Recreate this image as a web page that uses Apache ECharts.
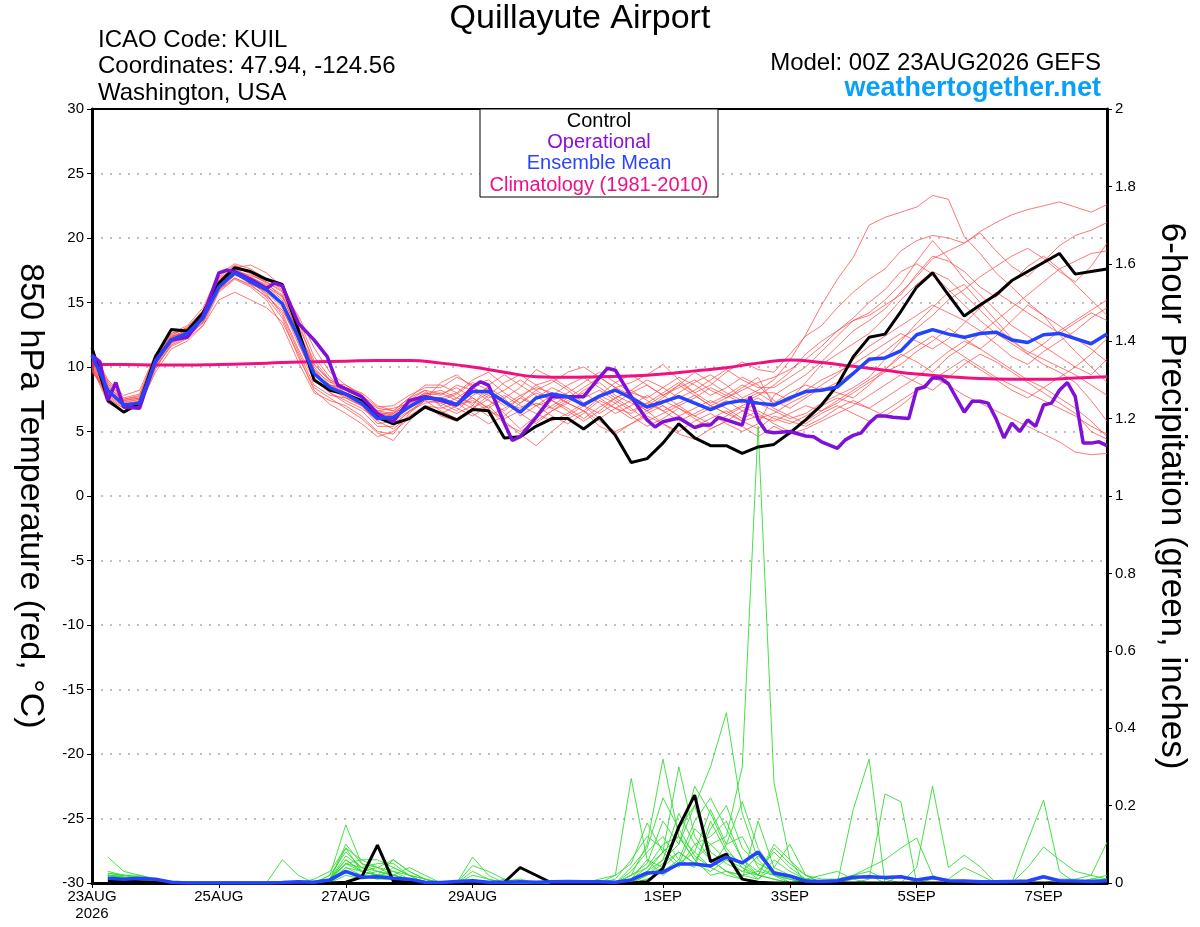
<!DOCTYPE html>
<html>
<head>
<meta charset="utf-8">
<title>Quillayute Airport</title>
<script src="https://cdn.jsdelivr.net/npm/echarts@6.0.0/dist/echarts.min.js"></script>
<style>
html, body { margin: 0; padding: 0; background: #fff; }
#chart { width: 1200px; height: 927px; }
</style>
</head>
<body>
<div id="chart"></div>
<script>
// forecast hours from 00Z 23AUG2026, 6-hourly
var hours = [0,6,12,18,24,30,36,42,48,54,60,66,72,78,84,90,96,102,108,114,120,126,132,138,144,150,156,162,168,174,180,186,192,198,204,210,216,222,228,234,240,246,252,258,264,270,276,282,288,294,300,306,312,318,324,330,336,342,348,354,360,366,372,378,384];
var precipHours = hours.slice(1); // precip starts at +6h

var dayTicks = [0, 48, 96, 144, 216, 264, 312, 360];
var dayLabels = ['23AUG\n2026', '25AUG', '27AUG', '29AUG', '1SEP', '3SEP', '5SEP', '7SEP'];

// control run, 850 hPa temperature
var controlTemp = [11.5,7.4,6.5,7.2,10.8,12.9,12.8,14.2,16.5,17.7, 17.4,16.8,16.4,12.9,9.0,8.2,7.9,7.4,6.1,5.6,
  6.0,6.9,6.4,5.9,6.7,6.6,4.5,4.6,5.4,6.0, 6.0,5.2,6.1,4.7,2.6,2.9,4.1,5.6,4.5,3.9,
  3.9,3.3,3.8,4.0,4.9,5.9,7.05,8.6,10.8,12.3, 12.55,14.3,16.2,17.3,15.6,13.95,14.8,15.6,16.7,17.4,
  18.1,18.8,17.2,17.4,17.6];

// ensemble mean temperature
var meanTemp = [10.9,8.2,7.05,7.2,10.4,12.1,12.6,13.8,16.2,17.3, 16.6,16.0,14.9,12.35,9.5,8.4,7.9,7.2,6.0,6.1,
  6.9,7.6,7.5,7.1,8.1,8.1,7.3,6.5,7.6,7.9, 7.7,7.05,7.75,8.2,7.6,6.9,7.3,7.7,7.2,6.7,
  7.2,7.4,7.2,7.05,7.6,8.1,8.2,8.45,9.5,10.6, 10.7,11.25,12.5,12.9,12.55,12.3,12.6,12.7,12.1,11.9,
  12.5,12.6,12.2,11.8,12.55];

// operational run (3-hourly in places)
var opHours = [0,3,6,9,12,18,24,30,36,42,48,51,54,60,66,69,72,78,84,89,93,96,102,108,114,120,126,132,138,144,
  147,150,156,159,162,168,174,180,186,192,195,198,204,210,213,216,222,228,231,234,237,240,246,249,252,255,258,264,270,273,
  276,282,285,288,291,294,297,300,303,309,312,315,318,321,324,330,333,336,339,342,345,348,351,354,357,360,363,366,369,372,
  375,378,381,384];
var opTemp = [10.9,10.4,7.4,8.8,6.9,6.8,10.5,12.1,12.3,13.9,17.3,17.5,17.4,16.8,16.1,16.5,16.3,13.4,12.1,10.8,
  8.6,8.3,7.7,6.4,5.75,7.4,7.7,7.4,7.05,8.45,8.85,8.6,5.65,4.3,4.6,6.1,7.7,7.7,7.7,9.2,
  9.9,9.75,7.7,5.9,5.35,5.75,6.05,5.3,5.5,5.5,6.1,5.9,5.5,7.7,5.9,5.0,4.9,5.0,4.65,4.6,
  4.2,3.7,4.35,4.7,4.9,5.65,6.2,6.2,6.1,6.0,8.3,8.45,9.15,9.15,8.7,6.5,7.35,7.35,7.2,6.0,
  4.5,5.65,5.0,5.9,5.4,7.05,7.2,8.2,8.8,7.7,4.1,4.1,4.2,3.9];

// climatology 1981-2010, 12-hourly
var climHours = [0,12,24,36,48,60,72,84,96,108,120,132,144,156,168,180,192,204,216,228,240,252,264,276,288,300,312,324,336,348,360,372,384];
var climTemp = [10.2,10.2,10.15,10.15,10.2,10.25,10.35,10.4,10.45,10.5, 10.5,10.3,10.0,9.6,9.25,9.2,9.25,9.3,9.45,9.7,
  9.95,10.3,10.55,10.35,10.05,9.75,9.45,9.25,9.1,9.05, 9.05,9.15,9.25];

// ensemble members, temperature: early (0-126h), middle (132-252h), late (258-384h) pieces
var e1 = [10.2,7.5,6.8,7.4,10.6,12.3,12.9,14.1,16.6,17.6,17.0,16.3,15.2,12.0,9.0,8.2,7.8,7.0,5.6,5.8,6.6,7.4];
var e2 = [11.2,8.6,7.2,7.0,9.8,11.8,12.4,13.5,16.0,17.1,16.8,16.2,15.5,13.2,10.5,9.0,8.4,7.6,6.5,6.3,7.2,8.0];
var e3 = [9.6,8.0,7.4,7.6,10.2,12.0,12.7,13.9,16.4,17.5,16.4,15.4,13.8,10.8,8.4,7.6,6.8,6.0,4.9,4.3,5.8,7.0];
var e4 = [10.8,8.8,7.6,7.9,10.9,12.5,13.0,14.4,17.0,17.9,17.3,16.6,15.9,14.0,11.5,9.6,8.6,7.8,6.9,7.0,7.8,8.4];
var e5 = [10.4,8.3,6.9,6.9,10.0,11.6,12.2,13.2,15.2,15.8,15.2,14.6,13.5,11.0,8.2,7.1,6.4,5.6,4.6,5.0,6.0,6.8];
var e6 = [11.0,8.1,7.1,7.3,10.5,12.2,12.8,14.0,16.9,17.7,17.9,17.3,16.2,13.6,10.2,8.9,8.0,7.4,6.2,5.9,6.8,7.6];
var e7 = [9.9,7.8,7.0,7.1,10.3,12.0,12.5,13.7,16.3,17.2,16.5,15.8,14.6,11.8,9.4,8.6,8.2,7.6,6.8,6.6,7.6,8.6];
var e8 = [10.6,8.5,7.3,7.5,10.7,12.4,12.6,13.6,16.1,17.4,16.9,16.4,15.6,12.6,9.8,8.8,8.6,7.9,6.4,6.2,7.0,7.8];
var e9 = [10.0,7.2,6.6,7.0,9.6,11.4,12.0,13.2,15.8,16.8,16.2,15.2,13.2,10.4,8.0,7.4,7.0,6.2,5.0,4.8,6.4,7.4];
var e10 = [11.4,9.0,7.8,8.2,11.0,12.6,13.2,14.6,17.2,18.0,17.6,16.8,16.0,13.8,10.8,9.2,8.2,7.2,6.0,6.4,7.4,8.2];
var e11 = [10.3,8.0,7.0,7.3,10.4,12.1,12.7,13.9,16.5,17.4,16.6,15.6,14.2,11.4,9.0,8.0,7.2,6.6,5.4,5.4,6.6,7.2];
var e12 = [10.7,8.4,7.5,7.7,10.8,12.4,13.1,14.3,16.7,17.8,17.2,16.5,15.4,12.8,10.0,8.6,8.0,7.4,6.6,6.8,7.2,7.9];
var e13 = [9.8,7.6,6.8,7.2,10.1,11.9,12.4,13.4,15.9,16.9,16.3,15.5,14.4,12.2,9.6,8.3,7.6,7.0,5.8,5.2,6.2,7.0];
var e14 = [11.1,8.7,7.4,7.6,10.6,12.3,12.9,14.2,16.8,17.6,16.8,16.0,14.8,12.4,9.4,8.6,8.4,8.0,7.0,6.6,7.6,8.2];
var e15 = [10.1,7.9,7.1,7.4,10.2,11.9,12.5,13.6,16.2,17.3,16.9,16.1,14.9,12.2,9.2,8.0,7.4,6.8,5.9,6.0,7.0,7.7];
var e16 = [11.0,8.9,7.5,7.8,10.9,12.6,13.0,14.2,16.6,17.5,16.7,15.7,14.0,11.2,8.6,7.8,7.6,7.0,6.3,6.5,7.3,8.0];
var e17 = [10.5,7.7,6.9,7.1,10.0,11.7,12.3,13.5,16.4,17.4,17.1,16.6,15.8,13.0,9.8,8.4,7.7,7.1,6.0,5.6,6.5,7.5];
var e18 = [9.7,8.1,7.2,7.5,10.5,12.2,12.8,14.0,16.0,16.9,16.4,15.9,15.0,12.8,10.2,9.0,8.4,7.7,6.6,6.4,7.1,7.8];

var m1 = [7.8,8.6,8.2,7.4,6.6,7.6,8.6,9.0,8.2,7.2,7.8,8.8,9.4,8.6,7.8,8.4,9.0,8.2,7.6,8.4,9.2];
var m2 = [7.2,6.6,7.8,8.4,7.6,6.2,7.0,7.4,6.8,6.0,6.9,7.6,6.8,5.8,6.4,7.0,6.2,5.6,6.2,6.9,6.4];
var m3 = [6.6,6.0,6.8,7.5,6.4,5.2,6.2,7.0,7.8,7.0,6.0,6.8,7.4,6.6,5.6,5.0,5.8,6.4,5.6,5.0,5.6];
var m4 = [8.4,9.2,8.6,9.0,8.0,7.2,8.2,8.8,9.6,10.0,9.2,8.4,8.8,9.4,10.2,9.0,8.0,8.6,9.6,10.4,9.8];
var m5 = [6.2,5.8,6.6,7.0,5.8,4.8,3.9,5.0,6.0,6.6,5.8,5.0,5.6,6.4,7.0,6.2,5.4,6.0,6.6,5.8,5.2];
var m6 = [7.6,8.0,7.0,8.6,9.4,8.6,7.8,6.8,7.6,8.4,9.2,8.4,7.4,6.6,7.2,8.0,8.8,9.4,8.6,7.6,8.2];
var m7 = [7.0,7.6,7.2,8.0,7.4,6.4,5.6,6.6,7.4,8.0,7.2,6.4,7.0,7.8,7.0,6.2,6.8,7.4,6.8,6.0,6.6];
var m8 = [8.0,7.4,6.8,7.8,8.8,9.4,8.6,7.8,7.2,8.2,8.8,7.8,7.2,6.8,7.6,8.6,9.6,8.8,8.0,7.4,8.0];
var m9 = [6.8,7.2,6.4,5.6,6.2,7.2,8.0,7.4,6.6,5.8,6.6,7.6,8.2,7.4,6.6,7.2,7.8,7.0,6.4,7.0,7.6];
var m10 = [8.6,8.0,9.0,9.6,8.6,7.8,7.0,7.8,8.6,9.2,8.4,7.6,8.2,9.0,8.4,7.6,8.2,9.0,9.8,9.0,8.4];
var m11 = [7.4,6.8,6.2,7.0,7.8,7.0,6.4,5.8,6.4,7.2,7.8,7.2,6.2,5.4,6.0,6.8,6.0,5.2,5.8,6.6,7.2];
var m12 = [7.9,8.4,7.6,6.8,7.6,8.4,9.8,9.2,8.4,7.6,8.2,7.4,6.6,7.2,8.0,8.8,8.0,7.2,7.8,8.6,8.0];
var m13 = [6.4,7.0,7.6,6.8,5.6,5.0,5.8,6.6,7.2,6.6,5.4,4.8,5.6,6.2,5.6,4.8,4.4,5.2,5.8,5.4,4.6];
var m14 = [8.2,7.6,8.4,7.8,7.0,7.8,8.4,8.0,7.2,6.6,7.6,8.4,7.8,7.0,7.8,8.6,7.8,7.0,7.6,8.2,8.8];
var m15 = [7.4,7.9,8.8,8.2,7.2,6.8,7.6,8.4,7.8,7.0,6.4,7.2,8.0,8.6,7.8,7.0,7.6,8.4,7.8,7.2,7.8];
var m16 = [6.9,6.4,7.0,6.2,6.8,7.6,7.0,6.2,5.6,6.4,7.4,6.8,6.0,6.6,7.4,6.8,6.2,6.8,7.4,6.6,6.0];
var m17 = [8.8,9.4,8.4,7.6,8.2,9.0,8.2,7.4,8.0,8.8,9.6,8.8,8.0,7.6,8.4,9.2,8.6,7.8,8.4,9.2,8.6];
var m18 = [7.6,7.0,7.4,6.6,6.0,6.6,7.2,6.8,6.2,7.0,7.6,6.8,6.4,7.2,6.6,5.8,6.4,7.0,6.4,5.8,6.2];

var l1 = [9.0,10.5,12.5,14.8,16.8,18.5,21.0,21.6,22.0,22.4,23.3,23.0,20.1,18.8,17.3,16.2,15.0,14.0,12.5,11.2,10.0,8.8];
var l2 = [7.8,8.6,9.4,10.4,11.6,12.8,13.6,14.5,15.8,17.0,18.4,19.0,19.6,20.5,21.2,21.8,22.2,22.5,22.8,22.4,22.0,22.6];
var l3 = [6.2,5.8,5.4,6.0,6.8,7.4,6.8,6.2,7.0,8.0,9.2,8.6,7.8,7.2,6.6,6.0,5.4,4.8,4.2,3.4,3.2,3.3];
var l4 = [9.6,11.0,12.4,13.2,14.6,15.8,16.8,17.6,19.0,19.8,20.2,20.0,19.6,20.4,19.0,17.8,17.0,18.2,19.4,20.2,20.6,21.2];
var l5 = [5.6,5.0,5.8,6.6,7.2,8.0,8.8,9.6,10.2,11.2,12.0,13.0,12.2,11.4,10.6,9.8,9.0,8.4,7.6,6.8,5.8,4.6];
var l6 = [8.4,9.2,10.0,11.2,12.4,13.6,14.0,14.8,15.6,17.2,18.6,18.2,17.4,16.2,15.4,16.6,17.8,18.6,17.6,16.4,15.2,14.0];
var l7 = [7.0,7.4,8.2,9.0,9.6,10.2,11.0,11.8,12.6,12.0,11.4,12.2,13.4,14.6,15.8,15.0,14.2,13.4,12.6,13.4,14.2,13.6];
var l8 = [6.6,6.0,6.4,7.2,7.8,8.4,9.2,10.6,12.0,13.4,14.6,15.8,16.4,15.0,13.6,12.2,11.0,10.2,9.6,8.8,7.4,5.8];
var l9 = [8.0,7.4,8.8,10.2,11.0,11.8,12.6,13.8,15.2,16.4,17.4,16.8,15.6,14.4,13.2,12.0,11.2,10.6,10.0,9.4,8.6,7.8];
var l10 = [5.4,4.8,5.2,5.8,6.4,7.0,7.8,8.6,9.4,8.8,8.2,9.2,10.2,11.0,10.4,9.6,8.8,8.0,7.2,6.4,5.0,4.4];
var l11 = [7.2,8.0,8.6,8.2,8.8,9.6,10.4,11.2,12.2,13.0,14.0,15.2,16.0,17.0,17.8,18.6,19.2,18.4,17.4,16.6,17.8,19.6];
var l12 = [6.8,6.2,5.6,6.4,7.0,6.4,5.8,6.6,7.4,8.2,9.0,9.8,10.6,9.8,9.0,8.2,7.6,8.4,9.2,10.0,11.0,12.2];
var l13 = [9.2,9.8,10.6,11.6,12.8,13.6,14.2,15.2,16.4,18.2,19.8,18.4,16.8,15.6,14.4,13.2,12.4,11.6,10.8,10.0,9.4,10.6];
var l14 = [6.0,5.6,6.2,7.0,7.6,7.2,6.8,7.6,8.4,9.2,10.2,11.2,12.0,11.4,12.4,13.6,14.8,14.0,13.2,12.2,11.4,10.4];
var l15 = [8.6,9.6,11.0,12.0,12.8,13.8,15.0,16.0,17.4,18.0,17.2,16.0,14.8,13.6,12.6,11.8,11.0,11.8,12.8,13.6,14.4,15.2];
var l16 = [6.4,7.2,7.8,8.6,9.4,10.6,11.6,12.4,13.2,14.0,14.8,14.2,13.6,12.8,11.8,10.8,10.2,11.2,12.0,12.8,13.8,14.6];
var l17 = [7.4,6.8,7.6,8.4,8.0,7.6,8.6,9.8,11.0,10.4,9.6,10.8,11.6,12.6,13.6,14.6,15.6,16.6,17.6,18.2,18.8,19.0];
var l18 = [5.8,6.4,7.0,6.6,7.4,8.2,9.0,9.8,10.8,11.6,12.4,11.6,10.8,10.0,9.2,8.6,8.0,7.4,6.8,6.2,5.4,4.8];

var tempMembers = [
  e1.concat(m3, l2), e2.concat(m1, l7), e3.concat(m5, l3), e4.concat(m4, l4),
  e5.concat(m13, l10), e6.concat(m6, l1), e7.concat(m10, l6), e8.concat(m8, l9),
  e9.concat(m2, l5), e10.concat(m12, l11), e11.concat(m11, l8), e12.concat(m14, l13),
  e13.concat(m9, l12), e14.concat(m7, l14), e15.concat(m15, l15), e16.concat(m16, l16),
  e17.concat(m17, l17), e18.concat(m18, l18)
];

// control and mean 6-hour precipitation (inches), 6..384h
var controlPrecip = [.004,.005,.003,.001,0,0,0,0, 0,0,0,0,0,0,0,.002, .015,.098,.005,.002,0,0,0,0, 0,.002,.04,.02,0,0,0,0,
  0,0,.003,.038,.145,.227,.055,.075, .01,.002,0,0,0,0,0,0, 0,0,0,0,0,0,0,0, 0,0,0,0,0,0,0,0];
var meanPrecip = [.012,.01,.012,.01,.002,0,0,0, 0,0,0,.001,.003,.002,.008,.03, .015,.016,.012,.01,.002,.001,.004,.006,
  .002,.002,.003,.002,.003,.004,.003,.003, .002,.008,.026,.028,.049,.049,.044,.067, .052,.08,.026,.018,.005,.004,.006,.015,
  .016,.014,.016,.008,.014,.006,.005,.003, .003,.004,.005,.016,.006,.005,.004,.006];

// ensemble members, precipitation
var precipMembers = [
  [.02,.015,.01,.005,0,0,0,0, 0,0,0,0,0,0,.01,.09, .03,.02,.01,.005,0,0,0,0, 0,0,0,0,0,0,0,0,
   0,.01,.04,.08,.12,.06,.10,.12, .30,1.18,.26,.06,0,0,0,0, 0,0,0,0,0,0,0,0, 0,0,0,0,0,0,.01,.01],
  [.025,.02,.02,.01,0,0,0,0, 0,0,0,0,0,0,.005,.05, .06,.04,.03,.01,0,0,0,0, 0,0,0,0,0,0,0,0,
   0,0,.02,.06,.10,.20,.30,.44, .18,.06,.02,.01,0,0,0,0, 0,0,0,0,0,0,0,0, 0,0,0,0,0,0,0,0],
  [.067,.03,.02,.01,.005,0,0,0, 0,0,0,0,0,0,.02,.15, .05,.03,.02,.01,0,0,0,.02, .01,0,0,0,0,0,0,0,
   .02,.27,.06,.02,.05,.08,.04,.02, .01,0,0,0,0,0,0,.19, .32,0,.02,0,0,0,0,0, 0,0,0,0,0,0,0,0],
  [.03,.02,.015,.01,0,0,0,0, 0,0,0,0,0,.01,.03,.09, .06,.06,.04,.02,.01,0,0,.01, 0,0,0,0,0,0,0,0,
   0,.02,.10,.32,.12,.06,.02,.03, .02,.01,.04,.02,0,0,0,0, .01,.23,.21,0,0,0,0,0, 0,0,0,0,0,0,0,0],
  [.02,.02,.015,.01,0,0,0,0, 0,0,0,.06,.02,0,.01,.10, .05,.04,.06,.03,.01,0,0,.067, .02,0,0,0,0,0,0,0,
   0,.01,.03,.08,.30,.12,.06,.03, .01,.16,.04,.10,.02,0,0,0, 0,0,0,0,0,0,0,0, 0,0,0,0,0,0,0,0],
  [.02,.015,.01,.005,0,0,0,0, 0,0,0,0,0,0,.02,.08, .04,.03,.02,.04,.02,0,0,.045, .03,.01,0,0,0,0,0,0,
   0,.02,.04,.10,.12,.08,.19,.10, .21,.09,.03,0,0,0,.01,.02, .03,.01,0,0,0,0,0,0, 0,0,0,0,0,0,0,0],
  [.015,.01,.01,.005,0,0,0,0, 0,0,0,0,0,.005,.01,.06, .03,.02,.06,.03,.01,0,0,0, 0,0,0,0,0,0,0,.01,
   .02,.05,.155,.08,.04,.10,.06,.03, .02,.03,.02,0,0,0,0,0, 0,0,0,.04,.25,.04,.072,.042, 0,0,0,0,0,0,0,0],
  [.01,.01,.005,0,0,0,0,0, 0,0,0,0,0,0,.005,.04, .02,.03,.02,.01,0,0,0,0, 0,0,0,0,0,0,0,0,
   0,.03,.08,.12,.06,.16,.22,.14, .06,.02,.09,.05,.02,0,0,0, 0,0,0,0,0,0,0,0, 0,0,.11,.214,.03,0,0,0],
  [.02,.01,.01,.005,0,0,0,0, 0,0,0,0,0,0,0,.03, .02,.01,.01,0,0,0,0,0, 0,0,0,0,0,0,0,0,
   0,0,.02,.04,.08,.05,.03,.06, .04,.02,.10,.06,.02,.01,.01,.02, .04,.06,.09,.116,.02,0,0,0, 0,0,.04,.093,.06,.03,.02,.105],
  [.01,.01,.01,0,0,0,0,0, 0,0,0,0,0,0,.01,.05, .04,.05,.05,.02,0,0,0,0, 0,.005,.01,0,0,0,0,0,
   0,.01,.06,.04,.14,.20,.08,.05, .03,.07,.03,.01,0,0,0,0, 0,0,0,0,.01,.01,.04,.02, 0,0,0,0,.01,.01,.02,.01],
  [.015,.01,.005,0,0,0,0,0, 0,0,0,0,0,0,0,.02, .01,.02,.03,.02,.01,0,0,0, 0,0,0,0,0,0,0,0,
   0,0,.01,.03,.06,.04,.16,.08, .05,.02,.01,0,.01,.02,.03,.01, 0,0,0,0,0,0,0,0, 0,0,0,0,0,0,0,0],
  [.02,.015,.01,.005,0,0,0,0, 0,0,0,0,0,0,.01,.06, .03,.02,.01,.005,0,0,0,0, 0,.01,0,0,0,0,0,0,
   0,.02,.05,.16,.10,.25,.18,.09, .04,.01,.06,.03,.01,0,0,0, 0,0,0,0,0,0,0,0, 0,0,0,0,0,0,0,0],
  [.015,.01,.01,0,0,0,0,0, 0,0,0,0,0,0,.01,.07, .04,.02,.01,0,0,0,0,0, 0,0,0,0,0,0,0,0,
   .01,.06,.12,.09,.05,.14,.10,.06, .03,.02,.01,0,0,0,0,0, 0,0,0,0,0,0,0,0, 0,0,0,0,0,0,0,0],
  [.02,.015,.01,.005,0,0,0,0, 0,0,0,0,0,0,0,.04, .03,.04,.02,.01,0,0,0,0, 0,0,0,0,0,0,0,0,
   0,.04,.09,.22,.14,.07,.04,.10, .12,.04,.02,.01,0,0,0,.01, .02,0,0,0,0,0,0,0, 0,0,0,0,0,0,0,0],
  [.01,.01,.005,0,0,0,0,0, 0,0,0,0,0,0,.005,.03, .02,.01,.04,.02,0,0,0,0, 0,0,0,0,0,0,0,0,
   0,0,.03,.06,.18,.10,.12,.16, .06,.03,.08,.04,.01,0,0,0, 0,0,0,0,0,0,0,0, 0,0,0,0,0,0,.01,.02],
  [.025,.02,.01,.005,0,0,0,0, 0,0,0,0,0,0,.01,.05, .03,.02,.02,.01,0,0,0,.03, .01,0,0,0,0,0,0,0,
   0,.01,.02,.05,.08,.05,.14,.20, .09,.05,.03,.02,.01,0,0,0, 0,0,0,0,0,0,0,0, 0,0,0,0,0,0,0,0]
];

function pairs(xs, ys) {
  return ys.map(function (v, i) { return [xs[i], v]; });
}

var FONT = 'Liberation Sans, Arial, Helvetica, sans-serif';
var series = [];

tempMembers.forEach(function (m, i) {
  series.push({
    name: 'member' + i, type: 'line', yAxisIndex: 0, data: pairs(hours, m),
    symbol: 'none', silent: true, z: 1,
    lineStyle: { color: '#ff4a4a', width: 1, opacity: 0.75 }
  });
});
precipMembers.forEach(function (m, i) {
  series.push({
    name: 'precip' + i, type: 'line', yAxisIndex: 1, data: pairs(precipHours, m),
    symbol: 'none', silent: true, z: 2,
    lineStyle: { color: '#33dd33', width: 1, opacity: 0.9 }
  });
});
series.push({
  name: 'Climatology', type: 'line', yAxisIndex: 0, data: pairs(climHours, climTemp),
  symbol: 'none', smooth: true, z: 3, lineStyle: { color: '#f0107f', width: 3 }
});
series.push({
  name: 'Control', type: 'line', yAxisIndex: 0, data: pairs(hours, controlTemp),
  symbol: 'none', z: 4, lineStyle: { color: '#000', width: 3 }
});
series.push({
  name: 'Control precip', type: 'line', yAxisIndex: 1, data: pairs(precipHours, controlPrecip),
  symbol: 'none', z: 4, lineStyle: { color: '#000', width: 3 }
});
series.push({
  name: 'Operational', type: 'line', yAxisIndex: 0, data: pairs(opHours, opTemp),
  symbol: 'none', z: 5, lineStyle: { color: '#8010d8', width: 3.5 }
});
series.push({
  name: 'Ensemble Mean', type: 'line', yAxisIndex: 0, data: pairs(hours, meanTemp),
  symbol: 'none', z: 6, lineStyle: { color: '#2244ff', width: 3.5 }
});
series.push({
  name: 'Mean precip', type: 'line', yAxisIndex: 1, data: pairs(precipHours, meanPrecip),
  symbol: 'none', z: 6, lineStyle: { color: '#2244ff', width: 3.5 }
});

var chart = echarts.init(document.getElementById('chart'), null, { renderer: 'canvas' });

var option = {
  animation: false,
  backgroundColor: '#fff',
  textStyle: { fontFamily: FONT },
  grid: { left: 92, right: 93, top: 109, bottom: 44, outerBoundsMode: 'none', containLabel: false },
  xAxis: [
    {
      type: 'value', min: 0, max: 384, position: 'bottom',
      axisLine: { show: true, onZero: false, lineStyle: { color: '#000', width: 3 } },
      axisTick: { show: true, customValues: dayTicks, length: 5, lineStyle: { color: '#000', width: 1 } },
      axisLabel: {
        customValues: dayTicks, color: '#000', fontSize: 15, fontFamily: FONT, margin: 5, lineHeight: 17,
        formatter: function (v) { var k = dayTicks.indexOf(v); return k >= 0 ? dayLabels[k] : ''; }
      },
      splitLine: { show: false }
    },
    {
      // top frame line only
      type: 'value', min: 0, max: 384, position: 'top',
      axisLine: { show: true, onZero: false, lineStyle: { color: '#000', width: 2 } },
      axisTick: { show: false }, axisLabel: { show: false }, splitLine: { show: false }
    }
  ],
  yAxis: [
    {
      type: 'value', min: -30, max: 30, interval: 5, position: 'left',
      name: '850 hPa Temperature (red, °C)', nameLocation: 'middle', nameGap: 45, nameRotate: -90,
      nameTextStyle: { fontSize: 34, color: '#000', fontFamily: FONT },
      axisLine: { show: true, onZero: false, lineStyle: { color: '#000', width: 3 } },
      axisTick: { show: true, length: 5, lineStyle: { color: '#000' } },
      axisLabel: { color: '#000', fontSize: 15, fontFamily: FONT, margin: 8 },
      splitLine: { show: true, lineStyle: { color: '#aaaaaa', width: 1.5, type: [2, 7] } }
    },
    {
      type: 'value', min: 0, max: 2, interval: 0.2, position: 'right',
      name: '6-hour Precipitation (green, inches)', nameLocation: 'middle', nameGap: 47, nameRotate: -90,
      nameTextStyle: { fontSize: 35, color: '#000', fontFamily: FONT },
      axisLine: { show: true, onZero: false, lineStyle: { color: '#000', width: 3 } },
      axisTick: { show: true, length: 5, lineStyle: { color: '#000' } },
      axisLabel: { color: '#000', fontSize: 15, fontFamily: FONT, margin: 8 },
      splitLine: { show: false }
    }
  ],
  graphic: [
    { type: 'text', z: 100, style: { text: 'Quillayute Airport', x: 580, y: 19, textAlign: 'center', textVerticalAlign: 'middle', font: '34px ' + FONT, fill: '#000' } },
    { type: 'text', z: 100, style: { text: 'ICAO Code: KUIL', x: 98, y: 40, textVerticalAlign: 'middle', font: '24px ' + FONT, fill: '#000' } },
    { type: 'text', z: 100, style: { text: 'Coordinates: 47.94, -124.56', x: 98, y: 66, textVerticalAlign: 'middle', font: '24px ' + FONT, fill: '#000' } },
    { type: 'text', z: 100, style: { text: 'Washington, USA', x: 98, y: 93, textVerticalAlign: 'middle', font: '24px ' + FONT, fill: '#000' } },
    { type: 'text', z: 100, style: { text: 'Model: 00Z 23AUG2026 GEFS', x: 1101, y: 63, textAlign: 'right', textVerticalAlign: 'middle', font: '24px ' + FONT, fill: '#000' } },
    { type: 'text', z: 100, style: { text: 'weathertogether.net', x: 1101, y: 89, textAlign: 'right', textVerticalAlign: 'middle', font: 'bold 27px ' + FONT, fill: '#08a0f8' } },
    { type: 'rect', z: 100, shape: { x: 480, y: 109, width: 238, height: 88 }, style: { fill: '#fff', stroke: '#000', lineWidth: 1 } },
    { type: 'text', z: 101, style: { text: 'Control', x: 599, y: 121, textAlign: 'center', textVerticalAlign: 'middle', font: '20px ' + FONT, fill: '#000' } },
    { type: 'text', z: 101, style: { text: 'Operational', x: 599, y: 142, textAlign: 'center', textVerticalAlign: 'middle', font: '20px ' + FONT, fill: '#8a12d6' } },
    { type: 'text', z: 101, style: { text: 'Ensemble Mean', x: 599, y: 163, textAlign: 'center', textVerticalAlign: 'middle', font: '20px ' + FONT, fill: '#2a45ff' } },
    { type: 'text', z: 101, style: { text: 'Climatology (1981-2010)', x: 599, y: 185, textAlign: 'center', textVerticalAlign: 'middle', font: '20px ' + FONT, fill: '#ee1188' } }
  ],
  series: series
};

chart.setOption(option);
</script>
</body>
</html>
